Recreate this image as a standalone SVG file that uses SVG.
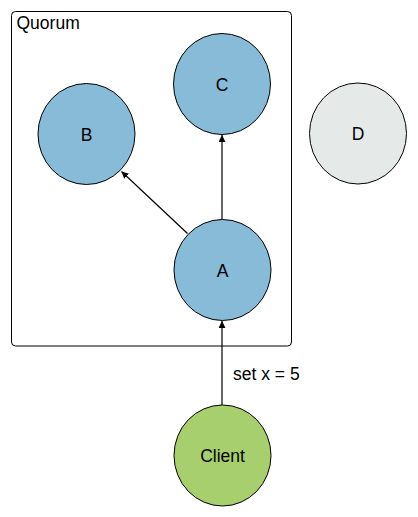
<svg xmlns="http://www.w3.org/2000/svg" width="418" height="517" viewBox="0 0 418 517">
<style>
text{font-family:"Liberation Sans",Arial,sans-serif;font-size:17.5px;fill:#000}
.n{stroke:#000;stroke-width:1}
.blue{fill:#88bbd7}
.gray{fill:#e5eae8}
.green{fill:#a7cf6e}
.c{text-anchor:middle}
.e{stroke:#000;stroke-width:1.2;fill:none;marker-end:url(#ah)}
</style>
<defs>
<marker id="ah" viewBox="0 0 10 10" refX="10" refY="5" markerWidth="7" markerHeight="7" markerUnits="userSpaceOnUse" orient="auto">
<path d="M0,0 L10,5 L0,10 z" fill="#000"/>
</marker>
</defs>
<rect width="418" height="517" fill="#fff"/>
<g id="quorum">
<rect x="11.5" y="11.5" width="280" height="334.5" rx="4" fill="none" stroke="#000" stroke-width="1"/>
<text x="16.5" y="29">Quorum</text>
</g>
<g id="connectors">
<line class="e" x1="222" y1="219.5" x2="222" y2="135"/>
<line class="e" x1="187.5" y1="233.5" x2="121.5" y2="171.5"/>
<line class="e" x1="222" y1="405" x2="222" y2="321"/>
<text x="233" y="380">set x = 5</text>
</g>
<g id="C">
<ellipse class="n blue" cx="222" cy="84" rx="48.5" ry="50.5"/>
<text class="c" x="222" y="90.5">C</text>
</g>
<g id="B">
<ellipse class="n blue" cx="86.5" cy="134" rx="48.5" ry="50.5"/>
<text class="c" x="86.5" y="140.5">B</text>
</g>
<g id="D">
<ellipse class="n gray" cx="358" cy="133.5" rx="48.5" ry="50.5"/>
<text class="c" x="358" y="140">D</text>
</g>
<g id="A">
<ellipse class="n blue" cx="222.5" cy="270" rx="48.5" ry="50.5"/>
<text class="c" x="222.5" y="276.5">A</text>
</g>
<g id="Client">
<ellipse class="n green" cx="222.5" cy="455.5" rx="48.5" ry="50.5"/>
<text class="c" x="222.5" y="462">Client</text>
</g>
</svg>
